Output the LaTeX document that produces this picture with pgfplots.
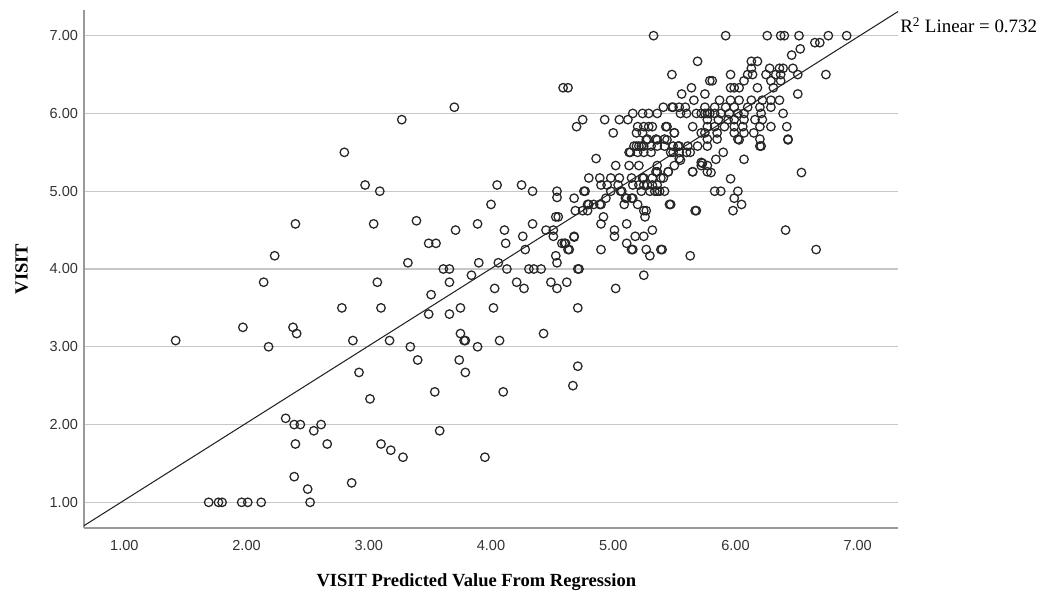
\documentclass[border=0pt]{standalone}
\usepackage{fontspec}
\setmainfont{Liberation Serif}
\newfontfamily\tickfont{Liberation Sans}
\usepackage{pgfplots}
\pgfplotsset{compat=1.18}
\begin{document}
\begin{tikzpicture}
\useasboundingbox (-63pt,-47.25pt) rectangle (732pt,396pt);
\begin{axis}[
  scale only axis,
  width=610.5pt, height=388.5pt,
  xmin=0.67, xmax=7.33, ymin=0.67, ymax=7.33,
  axis x line*=bottom, axis y line*=left,
  x axis line style={draw=black!40, line width=1.4pt},
  y axis line style={draw=black!40, line width=0.8pt},
  xtick={1,2,3,4,5,6,7}, ytick={1,2,3,4,5,6,7},
  xticklabels={1.00,2.00,3.00,4.00,5.00,6.00,7.00},
  yticklabels={1.00,2.00,3.00,4.00,5.00,6.00,7.00},
  major tick length=0pt,
  ticklabel style={font=\tickfont\fontsize{10.9}{12}\selectfont, text=black!80},
  xticklabel style={yshift=-6pt},
  yticklabel style={xshift=-1pt},
  ymajorgrids, grid style={draw=black!22, line width=0.9pt},
  clip=false,
]
\addplot[draw=black!85, line width=0.8pt, no marks] coordinates {(0.67,0.70) (7.33,7.31)};
\addplot[only marks, mark=o, mark size=3.2pt, mark options={draw=black!85, line width=0.95pt}] table {
x y
2.80 5.50
2.40 4.58
2.23 4.17
2.14 3.83
2.78 3.50
1.42 3.08
1.97 3.25
2.38 3.25
2.41 3.17
2.18 3.00
2.87 3.08
2.92 2.67
2.32 2.08
2.39 2.00
2.44 2.00
2.55 1.92
2.61 2.00
2.40 1.75
2.66 1.75
2.39 1.33
2.50 1.17
2.52 1.00
2.86 1.25
1.69 1.00
1.77 1.00
1.80 1.00
1.96 1.00
2.01 1.00
2.12 1.00
5.33 7.00
5.69 6.67
5.48 6.50
5.64 6.33
4.59 6.33
4.63 6.33
3.70 6.08
3.27 5.92
4.75 5.92
4.70 5.83
4.93 5.92
5.00 5.75
4.86 5.42
5.05 5.92
5.12 5.92
5.16 6.00
5.24 6.00
5.29 6.00
5.36 6.00
5.41 6.08
5.49 6.08
5.56 6.25
5.66 6.17
5.75 6.25
2.97 5.08
3.09 5.00
3.04 4.58
3.39 4.62
3.49 4.33
3.55 4.33
3.32 4.08
3.07 3.83
3.51 3.67
3.71 4.50
3.89 4.58
4.00 4.83
4.05 5.08
4.25 5.08
4.34 5.00
4.11 4.50
4.12 4.33
4.26 4.42
4.34 4.58
4.28 4.25
3.61 4.00
3.66 4.00
3.66 3.83
3.84 3.92
3.90 4.08
4.06 4.08
4.13 4.00
4.03 3.75
4.21 3.83
4.27 3.75
4.31 4.00
4.35 4.00
4.41 4.00
4.49 3.83
4.54 3.75
4.62 3.83
4.53 4.17
4.54 4.08
4.53 4.67
4.55 4.67
4.45 4.50
4.51 4.50
4.51 4.42
4.58 4.33
4.60 4.33
4.64 4.25
4.68 4.42
4.72 4.00
4.90 4.25
5.02 3.75
4.90 4.58
4.92 4.67
5.01 4.50
5.01 4.42
5.11 4.58
5.11 4.33
5.16 4.25
5.18 4.42
5.25 4.42
5.27 4.25
5.30 4.17
5.32 4.50
5.40 4.25
5.25 3.92
5.25 4.75
5.26 4.67
5.46 4.83
5.67 4.75
5.63 4.17
5.65 5.25
5.72 5.37
5.77 5.33
3.10 3.50
3.49 3.42
3.66 3.42
3.75 3.50
4.02 3.50
4.71 3.50
3.17 3.08
3.34 3.00
3.40 2.83
3.75 3.17
3.78 3.08
3.79 3.08
3.89 3.00
4.07 3.08
4.43 3.17
3.74 2.83
3.79 2.67
3.01 2.33
3.54 2.42
4.10 2.42
4.71 2.75
4.67 2.50
3.58 1.92
3.10 1.75
3.18 1.67
3.28 1.58
3.95 1.58
4.54 5.00
4.54 4.92
5.79 6.42
5.48 6.08
5.54 6.08
5.59 6.08
5.55 6.00
5.60 6.00
5.68 6.00
5.75 6.00
5.79 6.00
5.20 5.83
5.29 5.83
5.43 5.83
5.19 5.75
5.24 5.75
5.50 5.75
5.28 5.67
5.35 5.67
5.42 5.67
5.65 5.83
5.72 5.75
5.77 5.83
5.19 5.58
5.25 5.58
5.53 5.58
5.92 7.00
6.26 7.00
6.37 7.00
6.40 7.00
6.52 7.00
6.76 7.00
6.91 7.00
6.65 6.91
6.69 6.91
6.53 6.83
6.46 6.75
6.13 6.67
6.18 6.67
6.13 6.58
6.28 6.58
6.36 6.58
6.39 6.58
6.47 6.58
5.96 6.50
6.25 6.50
6.33 6.50
6.37 6.50
6.51 6.50
6.74 6.50
6.10 6.50
6.14 6.50
5.81 6.42
6.07 6.42
6.29 6.42
6.37 6.42
5.96 6.33
5.99 6.33
6.03 6.33
6.18 6.33
6.31 6.33
6.51 6.25
5.87 6.17
5.96 6.17
6.03 6.17
6.13 6.17
6.22 6.17
6.29 6.17
6.36 6.17
5.75 6.08
5.83 6.08
5.92 6.08
5.99 6.08
6.10 6.08
6.20 6.08
6.29 6.08
5.72 6.00
5.77 6.00
5.83 6.00
5.88 6.00
5.95 6.00
6.02 6.00
6.07 6.00
6.21 6.00
6.39 6.00
5.77 5.92
5.86 5.92
5.94 5.92
5.99 5.92
6.07 5.92
6.16 5.92
6.22 5.92
5.83 5.83
5.91 5.83
5.99 5.83
6.06 5.83
6.20 5.83
6.29 5.83
6.42 5.83
5.75 5.75
5.85 5.75
5.99 5.75
6.07 5.75
6.15 5.75
5.77 5.67
5.85 5.67
6.02 5.67
6.20 5.67
6.43 5.67
6.21 5.58
5.17 5.58
5.23 5.58
5.31 5.58
5.36 5.58
5.42 5.58
5.49 5.58
5.61 5.58
5.69 5.58
5.77 5.58
5.13 5.50
5.20 5.50
5.25 5.50
5.31 5.50
5.47 5.50
5.54 5.50
5.60 5.50
5.55 5.40
5.02 5.33
5.13 5.33
5.21 5.33
5.36 5.33
5.50 5.33
5.72 5.33
5.35 5.25
5.45 5.25
5.65 5.25
5.77 5.25
4.80 5.17
4.89 5.17
4.98 5.17
5.05 5.17
5.15 5.17
5.24 5.17
5.32 5.17
5.39 5.17
4.90 5.08
4.95 5.08
5.04 5.08
5.16 5.08
5.21 5.08
5.28 5.08
5.36 5.08
4.76 5.00
4.98 5.00
5.06 5.00
5.23 5.00
5.30 5.00
5.36 5.00
5.42 5.00
4.68 4.91
4.94 4.91
5.10 4.91
5.15 4.91
4.80 4.83
4.84 4.83
4.90 4.83
5.09 4.83
5.20 4.83
5.47 4.83
4.69 4.75
4.75 4.75
4.79 4.75
5.27 4.75
5.68 4.75
4.68 4.41
4.61 4.33
4.63 4.25
5.15 4.25
5.39 4.25
4.71 4.00
6.03 5.66
6.20 5.58
6.43 5.66
5.90 5.50
5.84 5.41
6.07 5.41
5.73 5.36
5.80 5.24
6.54 5.24
5.96 5.16
5.83 5.00
5.88 5.00
6.02 5.00
5.99 4.91
6.05 4.83
5.98 4.75
6.41 4.50
6.66 4.25
4.77 5.00
4.79 4.83
4.89 4.83
5.07 5.00
5.11 4.91
5.16 4.91
5.25 5.17
5.14 5.50
5.21 5.58
5.27 5.66
5.25 5.83
5.32 5.83
5.36 5.25
5.41 5.17
5.45 5.25
5.49 5.50
5.54 5.58
5.54 5.42
5.63 5.50
5.50 5.75
5.44 5.83
5.36 5.66
5.44 5.66
5.34 5.00
5.38 5.00
5.25 5.08
5.32 5.08
};
\node[anchor=base west, font=\fontsize{14.2}{16}\selectfont, inner sep=0pt] at (rel axis cs:1.0025,0.9556) {R\textsuperscript{2} Linear = 0.732};
\node[anchor=base, font=\bfseries\fontsize{13.9}{16}\selectfont, inner sep=0pt] at (rel axis cs:0.482,-0.112) {VISIT Predicted Value From Regression};
\node[rotate=90, anchor=center, font=\bfseries\fontsize{13.9}{16}\selectfont, inner sep=0pt] at (rel axis cs:-0.0765,0.5) {VISIT};
\end{axis}
\end{tikzpicture}
\end{document}
